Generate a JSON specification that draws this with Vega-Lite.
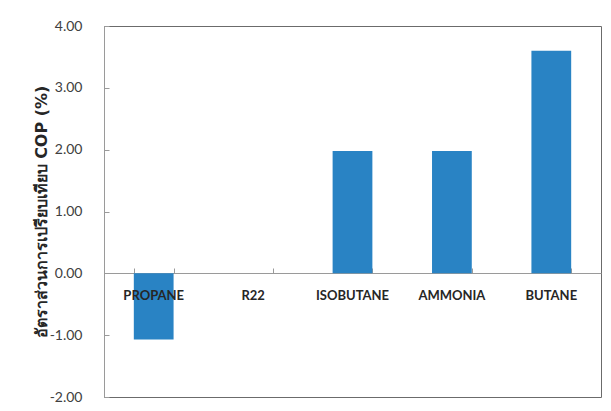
{
  "$schema": "https://vega.github.io/schema/vega-lite/v6.json",
  "width": 497,
  "height": 371,
  "autosize": {"type": "none"},
  "padding": {"left": 104, "top": 26, "right": 10, "bottom": 14},
  "background": "white",
  "config": {
    "view": {"stroke": "#6b6b6b", "strokeWidth": 1},
    "font": "Lato"
  },
  "data": {
    "values": [
      {"refrigerant": "PROPANE", "cop": -1.07},
      {"refrigerant": "R22", "cop": 0.0},
      {"refrigerant": "ISOBUTANE", "cop": 1.98},
      {"refrigerant": "AMMONIA", "cop": 1.98},
      {"refrigerant": "BUTANE", "cop": 3.6}
    ]
  },
  "encoding": {
    "x": {
      "field": "refrigerant",
      "type": "nominal",
      "sort": null,
      "scale": {"paddingInner": 0.6, "paddingOuter": 0.3},
      "axis": {
        "title": null,
        "orient": "bottom",
        "offset": -124,
        "tickBand": "extent",
        "tickSize": -5,
        "tickColor": "#9a9a9a",
        "domainColor": "#9a9a9a",
        "labels": false
      }
    }
  },
  "layer": [
    {
      "mark": {"type": "bar", "color": "#2983C4"},
      "encoding": {
        "y": {
          "field": "cop",
          "type": "quantitative",
          "scale": {"domain": [-2, 4], "nice": false, "zero": false},
          "axis": {
            "title": "อัตราส่วนการเปรียบเทียบ COP (%)",
            "titleFont": "DejaVu Sans",
            "titleFontSize": 16,
            "titleFontWeight": "bold",
            "titleColor": "#262626",
            "titlePadding": 0,
            "values": [-2, -1, 0, 1, 2, 3, 4],
            "labelExpr": "replace(format(datum.value, '.2f'), '\u2212', '-')",
            "grid": false,
            "tickSize": -5,
            "tickColor": "#9a9a9a",
            "domainColor": "#9a9a9a",
            "labelPadding": 27,
            "labelFont": "Lato",
            "labelFontSize": 14,
            "labelColor": "#404040"
          }
        }
      }
    },
    {
      "mark": {"type": "text", "dy": 23, "font": "Lato", "fontSize": 13, "fontWeight": "bold", "color": "#262626"},
      "encoding": {
        "y": {"datum": 0},
        "text": {"field": "refrigerant"}
      }
    }
  ]
}
